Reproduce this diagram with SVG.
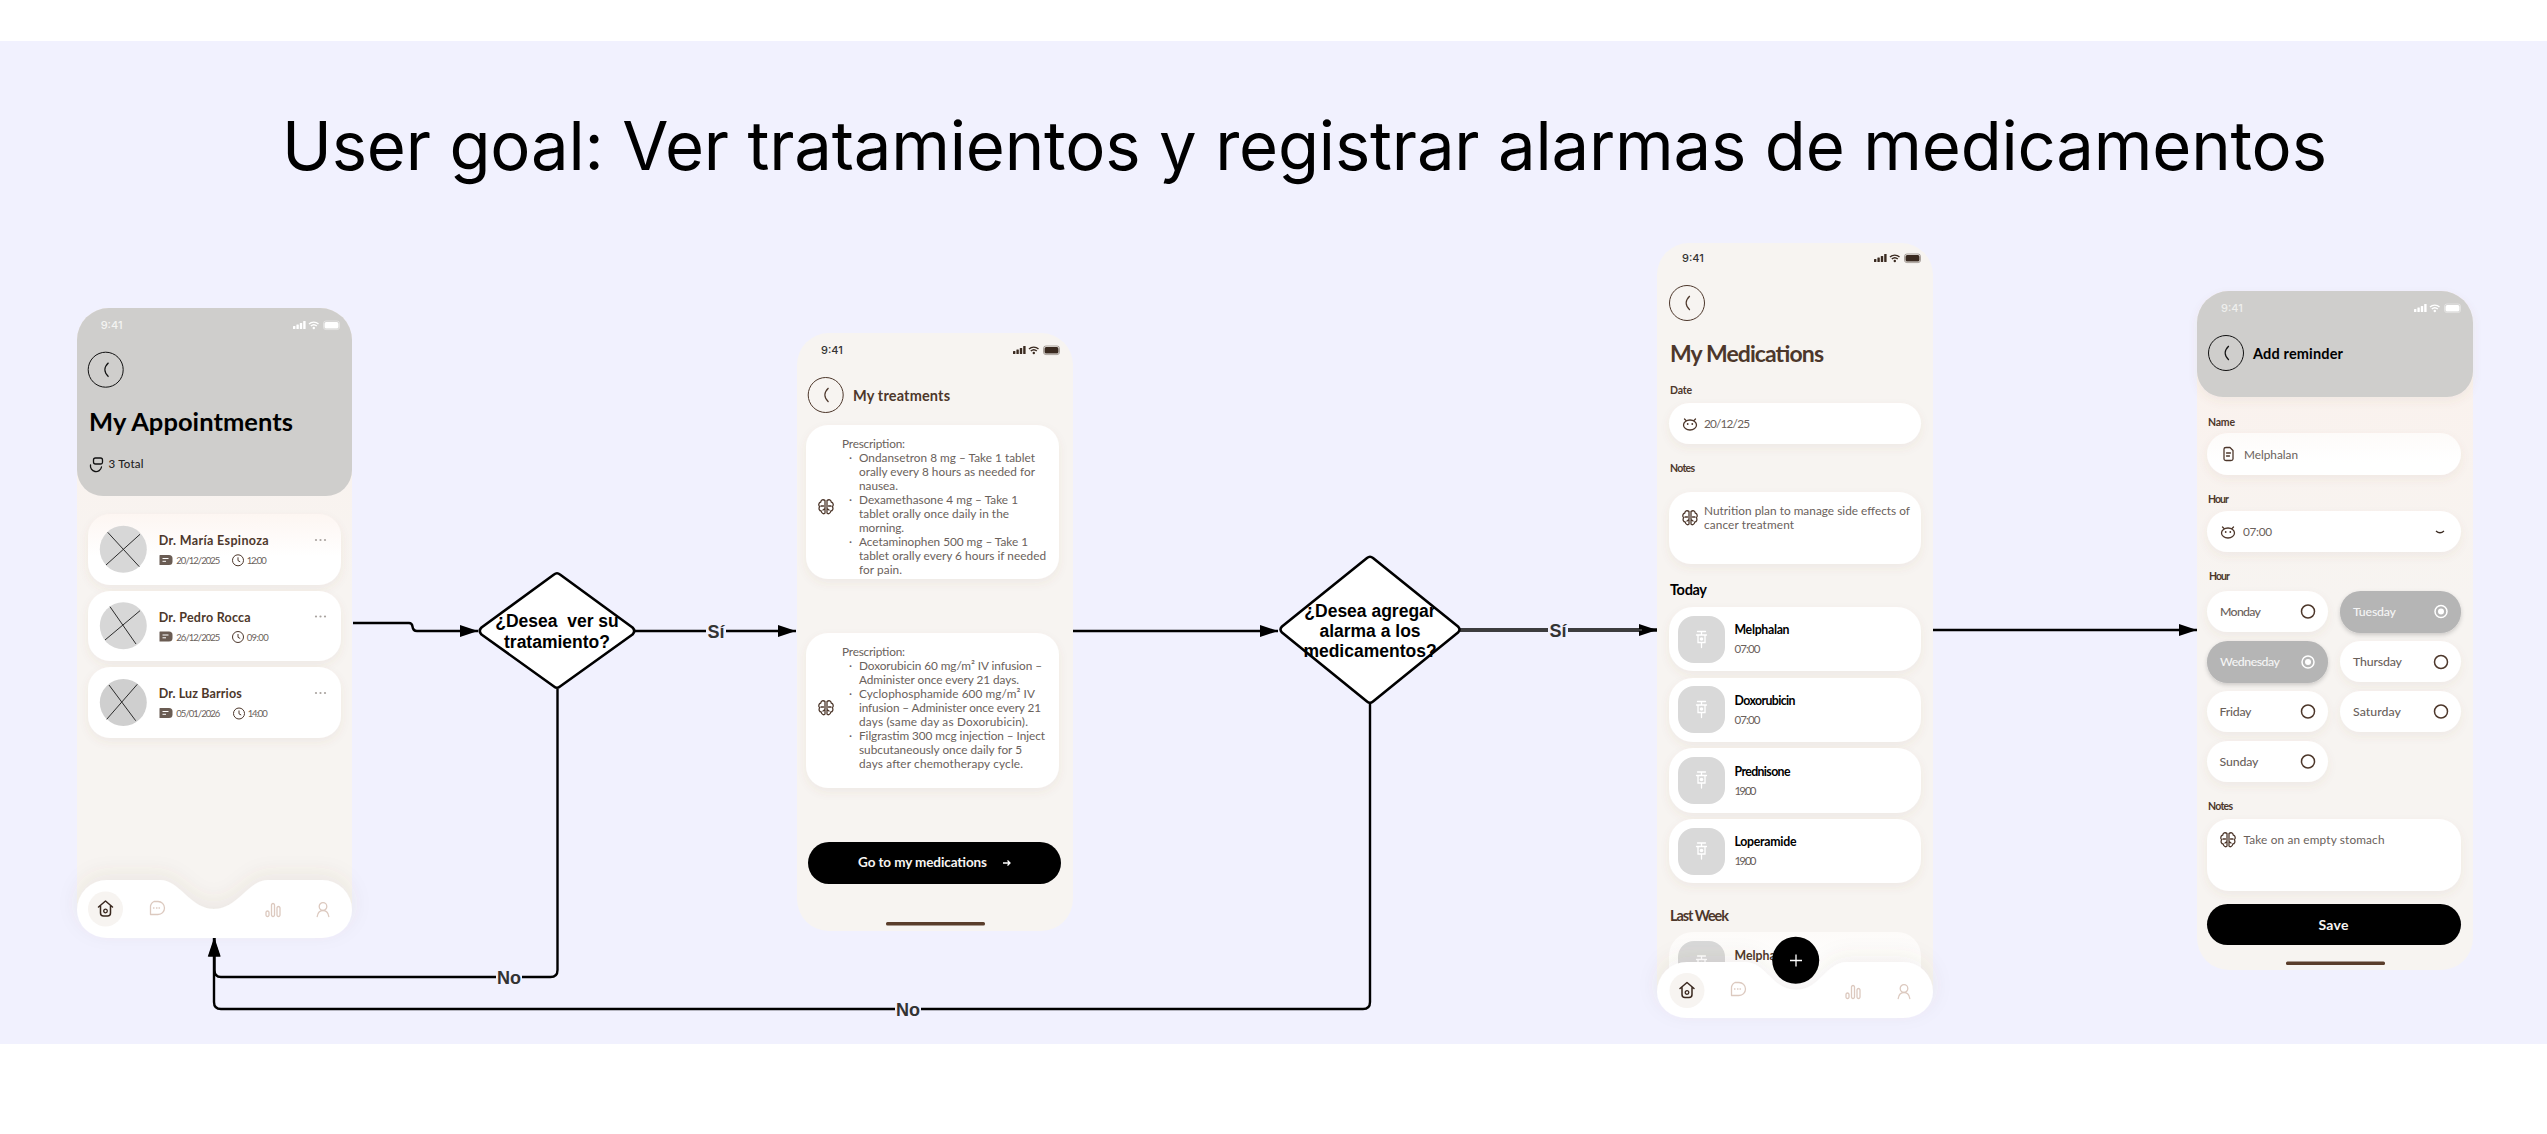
<svg xmlns="http://www.w3.org/2000/svg" width="2547" height="1134" viewBox="0 0 2547 1134">
<style>
text{font-family:"Lato","Noto Sans",sans-serif}
.title{font-family:"Inter",sans-serif;font-size:67px;fill:#000}
.time{font-family:"Inter",sans-serif;font-size:11px;font-weight:500}
.q{font-family:"Liberation Sans",Arial,sans-serif;font-size:17.5px;font-weight:700;fill:#000;text-anchor:middle}
.lab{font-family:"Liberation Sans",Arial,sans-serif;font-size:18px;font-weight:700;fill:#333;text-anchor:middle}
.conn{fill:none;stroke:#000;stroke-width:2.4}
.labbg{fill:#f1f1fe}
.dia{fill:#fff;stroke:#000;stroke-width:2.6;stroke-linejoin:round}
.card{fill:#fff;filter:url(#sh)}
.nm{font-size:12.5px;font-weight:700;fill:#4d372b}
.sm{font-size:9.5px;fill:#6a615b}
.rx{font-size:11.8px;fill:#6a615b}
.lbl{font-size:10.5px;font-weight:700;fill:#4d372b}
.med{font-size:12.3px;font-weight:700;fill:#000}
.mt{font-size:11.5px;fill:#6a615b}
.day{font-size:12.3px;font-weight:500;fill:#6a615b}
.ln{fill:none;stroke:#4d372b;stroke-width:1.3;stroke-linecap:round;stroke-linejoin:round}
.xl{stroke:#2b2b2b;stroke-width:1}
.nav{fill:none;stroke:#dcc9bf;stroke-width:1.3;stroke-linecap:round;stroke-linejoin:round}
</style>
<defs>
<filter id="sh" x="-15%" y="-20%" width="130%" height="150%"><feDropShadow dx="0" dy="4" stdDeviation="5" flood-color="#7a5a48" flood-opacity=".07"/></filter>
<filter id="shd" x="-15%" y="-20%" width="130%" height="150%"><feDropShadow dx="0" dy="2" stdDeviation="2" flood-color="#000" flood-opacity=".18"/></filter>
<filter id="navsh" x="-15%" y="-60%" width="130%" height="200%"><feDropShadow dx="0" dy="-6" stdDeviation="10" flood-color="#6b5547" flood-opacity=".08"/></filter>
<linearGradient id="pg" x1="0" y1="0" x2="0" y2="1"><stop offset="0" stop-color="#fbf1ec"/><stop offset=".45" stop-color="#f7f4f1"/><stop offset="1" stop-color="#f7f4f1"/></linearGradient>
<linearGradient id="cg" x1="0" y1="0" x2="0" y2="1"><stop offset="0" stop-color="#fdf6f2"/><stop offset=".6" stop-color="#fff"/></linearGradient>
<linearGradient id="fg" x1="0" y1="0" x2="0" y2="1"><stop offset="0" stop-color="#fdfbf9"/><stop offset=".7" stop-color="#fff"/></linearGradient>
<symbol id="stat" overflow="visible"><rect x="0" y="5" width="2.4" height="3" rx=".5" fill="currentColor"/><rect x="3.4" y="3.6" width="2.4" height="4.4" rx=".5" fill="currentColor"/><rect x="6.8" y="2" width="2.4" height="6" rx=".5" fill="currentColor"/><rect x="10.2" y="0" width="2.4" height="8" rx=".5" fill="currentColor"/><path d="M16 3a7 7 0 0 1 9.5 0M17.8 5a4.5 4.5 0 0 1 6 0" fill="none" stroke="currentColor" stroke-width="1.4"/><circle cx="20.8" cy="7" r="1.2" fill="currentColor"/><rect x="31.5" y="1" width="14" height="6.6" rx="1.7" fill="currentColor"/><rect x="30.5" y="0" width="16" height="8.6" rx="2.4" fill="none" stroke="currentColor" stroke-opacity=".4"/></symbol>
<symbol id="back" overflow="visible"><circle cx="0" cy="0" r="17.5" fill="none" stroke="currentColor" stroke-width="1"/><path d="M2.8-7Q-4.500 0 2.800 7" fill="none" stroke="currentColor" stroke-width="1.200"/></symbol>
<symbol id="brain" overflow="visible"><path class="ln" d="M-1-6.5C-3-8-5-7-5.2-5C-7.5-4.5-7.8-1.5-6.3-.3C-7.7 1.5-6.6 4-4.8 4C-4.5 6.5-2 7.5-1 6ZM1-6.5C3-8 5-7 5.2-5C7.5-4.5 7.8-1.5 6.3-.3C7.7 1.5 6.6 4 4.8 4C4.5 6.5 2 7.5 1 6ZM-1-6.5V6M1-6.5V6M-5-1H-2.5M5-1H2.5M-3 3L-1 1.5M3 3L1 1.5"/></symbol>
<symbol id="face" overflow="visible"><path class="ln" d="M-6.5 1A6.500 5 0 1 0 6.500 1A6.500 5 0 1 0-6.500 1ZM-4-3.500L-5.500-5M4-3.500L5.500-5"/><circle cx="-2.300" cy="0" r=".9" fill="#4d372b"/><circle cx="2.300" cy="0" r=".9" fill="#4d372b"/></symbol>
<symbol id="chat" overflow="visible"><path d="M-6-5H3Q6.500-5 6.500-1.500V1.500Q6.500 5 3 5H-6.500V-4.500Q-6.500-5-6-5Z" fill="#6a5c53"/><path d="M-3.500-1.500H2.500M-3.500 1.300H0" stroke="#fff" stroke-width="1"/></symbol>
<symbol id="clk" overflow="visible"><circle r="5.500" fill="none" stroke="#4d372b" stroke-width="1"/><path d="M0-3V0.300L2.200 1.500" fill="none" stroke="#4d372b"/></symbol>
<symbol id="home" overflow="visible"><path class="ln" style="stroke:#3a281f;stroke-width:1.500" d="M-7-2L0-8L7-2M-5-3.500V4Q-5 7-2 7H2Q5 7 5 4V-3.500"/><circle cy="2" r="1.800" fill="none" stroke="#3a281f" stroke-width="1.300"/></symbol>
<symbol id="navchat" overflow="visible"><path class="nav" d="M-2-6.500H2A6.500 6.500 0 0 1 2 6.500H-5.500V0A6.500 6.500 0 0 1-2-6.500Z"/><path d="M-2.500 0H-2M.5 0H1M3 0H3.500" class="nav"/></symbol>
<symbol id="bars" overflow="visible"><rect x="-7" y="1" width="3" height="5.500" rx="1.500" class="nav"/><rect x="-1.500" y="-6.500" width="3" height="13" rx="1.500" class="nav"/><rect x="4" y="-3.500" width="3" height="10" rx="1.500" class="nav"/></symbol>
<symbol id="user" overflow="visible"><circle cy="-3.500" r="3.800" class="nav"/><path class="nav" d="M-5.800 6.500C-5 1.500-2 .5 0 .5S5 1.500 5.800 6.500"/></symbol>
<symbol id="syr" overflow="visible"><path d="M-4-8H4M0-8V-5M-5-4.500H5M-3.500-4.500V3H3.500V-4.500M0 3V8" fill="none" stroke="#fff" stroke-width="1.300" stroke-linecap="round"/><circle cy="-.5" r="1.800" fill="#fff"/></symbol>
<symbol id="radio" overflow="visible"><circle r="6.500" fill="none" stroke="#4d372b" stroke-width="1.500"/></symbol>
<symbol id="radioon" overflow="visible"><circle r="6" fill="none" stroke="#fff" stroke-width="1.500"/><circle r="3" fill="#fff"/></symbol>
<marker id="ah" markerUnits="userSpaceOnUse" markerWidth="19" markerHeight="14" refX="18.500" refY="7" orient="auto"><path d="M0 .8L18.500 7L0 13.200Z" fill="#000"/></marker>
</defs>

<rect width="2547" height="1134" fill="#fff"/>
<rect y="41" width="2547" height="1003" fill="#f1f1fe"/>
<text class="title" x="282" y="170" textLength="2045">User goal: Ver tratamientos y registrar alarmas de medicamentos</text>

<g id="screen-appointments">
<rect x="77" y="308" width="275" height="630" rx="32" fill="url(#pg)"/>
<path d="M77 340a32 32 0 0 1 32-32H320a32 32 0 0 1 32 32V470a26 26 0 0 1-26 26H103a26 26 0 0 1-26-26Z" fill="#cfcecc"/>
<text class="time" x="100.700" y="329" fill="#f4f4f2">9:41</text>
<use href="#stat" x="293" y="321" color="#fff"/>
<use href="#back" x="105.700" y="369.700" color="#111"/>
<text x="89" y="431" font-size="25.500" font-weight="700" fill="#000" textLength="204">My Appointments</text>
<g transform="translate(96.500 464)"><path class="ln" style="stroke:#111" d="M-6 1A5 5 0 1 0 5 3M-1-6H4Q6-6 6-4V-2Q6 0 4 0H-1Q-3 0-3-2V-4Q-3-6-1-6Z"/></g>
<text x="108.500" y="468" font-size="11.500" font-weight="500" fill="#222" textLength="35">3 Total</text>

<rect x="88" y="514" width="253" height="71" rx="22" fill="url(#cg)" filter="url(#sh)"/>
<rect class="card" x="88" y="591" width="253" height="70" rx="22"/>
<rect class="card" x="88" y="667" width="253" height="71" rx="22"/>

<circle cx="123.300" cy="549.300" r="23.500" fill="#d7d7d7"/>
<path class="xl" d="M107.700 532.300L139.300 566.700M140 534.300L106 565"/>
<circle cx="123.300" cy="625.800" r="23.500" fill="#d7d7d7"/>
<path class="xl" d="M110 606.700L136 644M140 610.700L105 640"/>
<circle cx="123.300" cy="702.500" r="23.500" fill="#cfcfcf"/>
<path class="xl" d="M109 685L135.700 720.700M137.300 684.300L106.700 719.300"/>

<text class="nm" x="158.700" y="545" textLength="110">Dr. María Espinoza</text>
<use href="#chat" x="166" y="560"/><text class="sm" x="176.300" y="564" textLength="44">20/12/2025</text>
<use href="#clk" x="238" y="560.300"/><text class="sm" x="246.700" y="564" textLength="20">12:00</text>
<text class="nm" x="158.700" y="621.500" textLength="92">Dr. Pedro Rocca</text>
<use href="#chat" x="166" y="636.500"/><text class="sm" x="176.300" y="640.500" textLength="44">26/12/2025</text>
<use href="#clk" x="238" y="637"/><text class="sm" x="246.700" y="640.500" textLength="22">09:00</text>
<text class="nm" x="158.700" y="698" textLength="83">Dr. Luz Barrios</text>
<use href="#chat" x="166" y="713"/><text class="sm" x="176.300" y="717" textLength="44">05/01/2026</text>
<use href="#clk" x="239" y="713.500"/><text class="sm" x="247.700" y="717" textLength="20">14:00</text>
<g fill="#a9a39f"><circle cx="316" cy="540" r="1.100"/><circle cx="320.500" cy="540" r="1.100"/><circle cx="325" cy="540" r="1.100"/><circle cx="316" cy="616.500" r="1.100"/><circle cx="320.500" cy="616.500" r="1.100"/><circle cx="325" cy="616.500" r="1.100"/><circle cx="316" cy="693" r="1.100"/><circle cx="320.500" cy="693" r="1.100"/><circle cx="325" cy="693" r="1.100"/></g>

<path d="M77 910a30 30 0 0 1 30-30H160C180 880 190 909 214 909S248 880 268 880H322a30 30 0 0 1 30 30a30 28 0 0 1-30 28H107a30 28 0 0 1-30-28Z" fill="#fff" filter="url(#navsh)"/>
<circle cx="105.500" cy="909" r="17.500" fill="#f7f4f1"/>
<use href="#home" x="105.500" y="909"/><use href="#navchat" x="156" y="908"/><use href="#bars" x="273" y="910"/><use href="#user" x="323" y="910"/>
</g>

<g id="screen-treatments">
<rect x="797" y="333" width="276" height="598" rx="32" fill="#f7f4f1"/>
<text class="time" x="821" y="354" fill="#333">9:41</text>
<use href="#stat" x="1013" y="346" color="#3a2a20"/>
<use href="#back" x="825.700" y="395" color="#4d372b"/>
<text x="853" y="401" font-size="14.500" font-weight="700" fill="#4d372b" textLength="97">My treatments</text>
<rect class="card" x="806" y="425" width="253" height="154" rx="22"/>
<rect class="card" x="806" y="633" width="253" height="155" rx="22"/>
<use href="#brain" x="826" y="507"/><use href="#brain" x="826" y="708"/>
<g>
<text class="rx" x="842" y="448" textLength="63">Prescription:</text>
<text class="rx" x="849" y="462">·</text><text class="rx" x="859" y="462" textLength="176">Ondansetron 8 mg – Take 1 tablet</text>
<text class="rx" x="859" y="476" textLength="176">orally every 8 hours as needed for</text>
<text class="rx" x="859" y="490" textLength="39">nausea.</text>
<text class="rx" x="849" y="504">·</text><text class="rx" x="859" y="504" textLength="159">Dexamethasone 4 mg – Take 1</text>
<text class="rx" x="859" y="518" textLength="150">tablet orally once daily in the</text>
<text class="rx" x="859" y="532" textLength="45">morning.</text>
<text class="rx" x="849" y="546">·</text><text class="rx" x="859" y="546" textLength="169">Acetaminophen 500 mg – Take 1</text>
<text class="rx" x="859" y="560" textLength="187">tablet orally every 6 hours if needed</text>
<text class="rx" x="859" y="574" textLength="43">for pain.</text>
<text class="rx" x="842" y="656" textLength="63">Prescription:</text>
<text class="rx" x="849" y="670">·</text><text class="rx" x="859" y="670" textLength="183">Doxorubicin 60 mg/m² IV infusion –</text>
<text class="rx" x="859" y="684" textLength="160">Administer once every 21 days.</text>
<text class="rx" x="849" y="698">·</text><text class="rx" x="859" y="698" textLength="176">Cyclophosphamide 600 mg/m² IV</text>
<text class="rx" x="859" y="712" textLength="182">infusion – Administer once every 21</text>
<text class="rx" x="859" y="726" textLength="169">days (same day as Doxorubicin).</text>
<text class="rx" x="849" y="740">·</text><text class="rx" x="859" y="740" textLength="186">Filgrastim 300 mcg injection – Inject</text>
<text class="rx" x="859" y="754" textLength="163">subcutaneously once daily for 5</text>
<text class="rx" x="859" y="768" textLength="164">days after chemotherapy cycle.</text>
</g>
<rect x="808" y="842" width="253" height="42" rx="21" fill="#000"/>
<text x="858" y="867" font-size="13.500" font-weight="700" fill="#f7f4f1" textLength="129">Go to my medications</text>
<path d="M1003 863H1010M1007.500 860.500L1010 863L1007.500 865.500" fill="none" stroke="#fff" stroke-width="1.300"/>
<rect x="886" y="922" width="99" height="3.500" rx="1.500" fill="#5a3d2b"/>
</g>

<g id="screen-medications">
<rect x="1657" y="243" width="276" height="775" rx="32" fill="#f7f4f1"/>
<text class="time" x="1682" y="262" fill="#333">9:41</text>
<use href="#stat" x="1874" y="254" color="#3a2a20"/>
<use href="#back" x="1687" y="303" color="#4d372b"/>
<text x="1670" y="362" font-size="23" font-weight="700" fill="#4d372b" textLength="154">My Medications</text>
<text class="lbl" x="1670" y="394" textLength="22">Date</text>
<rect class="card" x="1669" y="403" width="252" height="41" rx="20.500"/>
<use href="#face" x="1690" y="424"/>
<text class="rx" x="1704" y="428" textLength="46">20/12/25</text>
<text class="lbl" x="1670" y="472" textLength="25">Notes</text>
<rect class="card" x="1669" y="492" width="252" height="72" rx="22"/>
<use href="#brain" x="1690" y="518"/>
<text class="rx" x="1704" y="515" textLength="206">Nutrition plan to manage side effects of</text>
<text class="rx" x="1704" y="529" textLength="90">cancer treatment</text>
<text x="1670" y="595" font-size="14.500" font-weight="700" fill="#000" textLength="37">Today</text>

<rect class="card" x="1669" y="607" width="252" height="64" rx="24"/>
<rect x="1678" y="616" width="47" height="47" rx="16" fill="#d9d9d9"/><use href="#syr" x="1701.500" y="639.500"/>
<text class="med" x="1734.500" y="634" textLength="55">Melphalan</text><text class="mt" x="1734.500" y="653" textLength="26">07:00</text>
<rect class="card" x="1669" y="678" width="252" height="64" rx="24"/>
<rect x="1678" y="686" width="47" height="47" rx="16" fill="#d9d9d9"/><use href="#syr" x="1701.500" y="709.500"/>
<text class="med" x="1734.500" y="705" textLength="61">Doxorubicin</text><text class="mt" x="1734.500" y="724" textLength="26">07:00</text>
<rect class="card" x="1669" y="748" width="252" height="65" rx="24"/>
<rect x="1678" y="757" width="47" height="47" rx="16" fill="#d9d9d9"/><use href="#syr" x="1701.500" y="780"/>
<text class="med" x="1734.500" y="776" textLength="56">Prednisone</text><text class="mt" x="1734.500" y="795" textLength="22">19:00</text>
<rect class="card" x="1669" y="819" width="252" height="64" rx="24"/>
<rect x="1678" y="828" width="47" height="47" rx="16" fill="#d9d9d9"/><use href="#syr" x="1701.500" y="851"/>
<text class="med" x="1734.500" y="846" textLength="62">Loperamide</text><text class="mt" x="1734.500" y="865" textLength="22">19:00</text>
<text x="1670" y="920.500" font-size="14.500" font-weight="700" fill="#4d372b" textLength="59">Last Week</text>
<rect x="1669" y="932" width="252" height="64" rx="24" fill="url(#fg)"/>
<rect x="1678" y="941" width="47" height="47" rx="16" fill="#d9d9d9"/><use href="#syr" x="1701.500" y="964"/>
<text x="1734.500" y="959.500" font-size="12.300" font-weight="700" fill="#4d372b">Melphalan</text>
<path d="M1657 992a30 30 0 0 1 30-30H1745C1766 962 1772 990 1796 990S1826 962 1847 962H1903a30 30 0 0 1 30 30a30 26 0 0 1-30 26H1687a30 26 0 0 1-30-26Z" fill="#fff" filter="url(#navsh)"/>
<circle cx="1687" cy="990.500" r="17.500" fill="#f7f4f1"/>
<use href="#home" x="1687" y="990.500"/><use href="#navchat" x="1737" y="989"/><use href="#bars" x="1853" y="992"/><use href="#user" x="1904" y="992"/>
<circle cx="1795.700" cy="960.300" r="23.500" fill="#000"/>
<path d="M1790 960.500H1802M1796 954.500V966.500" stroke="#fff" stroke-width="1.300"/>
</g>

<g id="screen-reminder">
<rect x="2197" y="291" width="276" height="679" rx="32" fill="url(#pg)"/>
<path d="M2197 323a32 32 0 0 1 32-32H2441a32 32 0 0 1 32 32V371a26 26 0 0 1-26 26H2223a26 26 0 0 1-26-26Z" fill="#cfcecc" filter="url(#sh)"/>
<text class="time" x="2221" y="312" fill="#eeeeec">9:41</text>
<use href="#stat" x="2414" y="304" color="#fff"/>
<use href="#back" x="2226" y="353" color="#111"/>
<text x="2253" y="358.500" font-size="14.500" font-weight="700" fill="#000" textLength="90">Add reminder</text>
<text class="lbl" x="2208" y="425.500" textLength="27">Name</text>
<rect x="2207" y="433" width="254" height="42" rx="21" fill="url(#fg)" filter="url(#sh)"/>
<path class="ln" d="M2224 449Q2224 447.500 2226 447.500H2230L2233 450.500V459Q2233 460.500 2231 460.500H2226Q2224 460.500 2224 459ZM2226.500 453H2230.500M2226.500 456H2229.500"/>
<text class="rx" x="2244" y="458.500" textLength="54">Melphalan</text>
<text class="lbl" x="2208" y="502.500" textLength="21">Hour</text>
<rect class="card" x="2207" y="511" width="254" height="41" rx="20.500"/>
<use href="#face" x="2228" y="532"/>
<text class="rx" x="2243" y="536" textLength="29">07:00</text>
<path d="M2436 531Q2440 534.500 2444 531" fill="none" stroke="#3a2a20" stroke-width="1.300"/>
<text class="lbl" x="2209" y="579.500" textLength="21">Hour</text>

<rect class="card" x="2207" y="591" width="121" height="41" rx="20.500"/><text class="day" x="2220" y="616" textLength="41">Monday</text><use href="#radio" x="2308" y="611.500"/>
<rect x="2340" y="591" width="121" height="42" rx="20.500" fill="#b5b5b5" filter="url(#shd)"/><text class="day" x="2353" y="616" style="fill:#f5f5f5" textLength="43">Tuesday</text><use href="#radioon" x="2441" y="611.500"/>
<rect x="2207" y="641" width="121" height="42" rx="20.500" fill="#b5b5b5" filter="url(#shd)"/><text class="day" style="fill:#f5f5f5" x="2220" y="666" textLength="60">Wednesday</text><use href="#radioon" x="2308" y="662"/>
<rect class="card" x="2340" y="641" width="121" height="41" rx="20.500"/><text class="day" x="2353" y="666" textLength="49">Thursday</text><use href="#radio" x="2441" y="662"/>
<rect class="card" x="2207" y="691" width="121" height="41" rx="20.500"/><text class="day" x="2219.500" y="716" textLength="32">Friday</text><use href="#radio" x="2308" y="711.500"/>
<rect class="card" x="2340" y="691" width="121" height="41" rx="20.500"/><text class="day" x="2353" y="716" textLength="48">Saturday</text><use href="#radio" x="2441" y="711.500"/>
<rect class="card" x="2207" y="741" width="121" height="41" rx="20.500"/><text class="day" x="2219.500" y="766" textLength="39">Sunday</text><use href="#radio" x="2308" y="761.500"/>

<text class="lbl" x="2208" y="809.500" textLength="25">Notes</text>
<rect class="card" x="2207" y="819" width="254" height="72" rx="22"/>
<use href="#brain" x="2228" y="840"/>
<text class="rx" x="2243.500" y="844" textLength="141">Take on an empty stomach</text>
<rect x="2207" y="904" width="254" height="41" rx="20.500" fill="#000"/>
<text x="2333.500" y="929.500" font-size="14" font-weight="700" fill="#f7f4f1" text-anchor="middle" textLength="30">Save</text>
<rect x="2286" y="961.500" width="99" height="3.500" rx="1.500" fill="#5a3d2b"/>
</g>

<g id="connectors">
<path class="conn" d="M353 623H409Q412 623 412.500 626.500Q413 631 417 631H478" marker-end="url(#ah)"/>
<path class="conn" d="M635 631H796" marker-end="url(#ah)"/>
<path class="conn" d="M1073 631H1278" marker-end="url(#ah)"/>
<path class="conn" style="stroke-width:3.600" d="M1460 630H1657" marker-end="url(#ah)"/>
<path d="M1460 630H1642" stroke="#999" stroke-width=".8" fill="none"/>
<path class="conn" d="M1933 630H2197" marker-end="url(#ah)"/>
<path class="conn" d="M557.500 689V970Q557.500 977 550.500 977H221Q214.500 977 214.500 970V938" marker-end="url(#ah)"/>
<path class="conn" d="M1370 703V1002Q1370 1009 1363 1009H221Q214 1009 214 1002V938" marker-end="url(#ah)"/>
<rect class="labbg" x="706" y="622" width="20" height="18"/><text class="lab" x="716" y="637.500">Sí</text>
<rect class="labbg" x="1548" y="621" width="20" height="18"/><text class="lab" x="1558" y="636.500">Sí</text>
<rect class="labbg" x="496" y="968" width="26" height="18"/><text class="lab" x="509" y="983.500">No</text>
<rect class="labbg" x="895" y="1000" width="26" height="18"/><text class="lab" x="908" y="1015.500">No</text>
</g>

<g id="decision-tratamiento">
<path class="dia" d="M554 574.500Q557 572 560 574.500L632.500 627.500Q636 631 632.500 634.500L560 686.500Q557 689 554 686.500L481.500 634.500Q478 631 481.500 627.500Z"/>
<text class="q" x="557" y="627" xml:space="preserve">¿Desea  ver su</text>
<text class="q" x="557" y="648">tratamiento?</text>
</g>
<g id="decision-alarma">
<path class="dia" d="M1367 558Q1370 555.500 1373 558L1458 626.500Q1461 629.500 1458 632.500L1373 701.500Q1370 704 1367 701.500L1282 632.500Q1279 629.500 1282 626.500Z"/>
<text class="q" x="1370" y="617">¿Desea agregar</text>
<text class="q" x="1370" y="637">alarma a los</text>
<text class="q" x="1370" y="657">medicamentos?</text>
</g>
</svg>
